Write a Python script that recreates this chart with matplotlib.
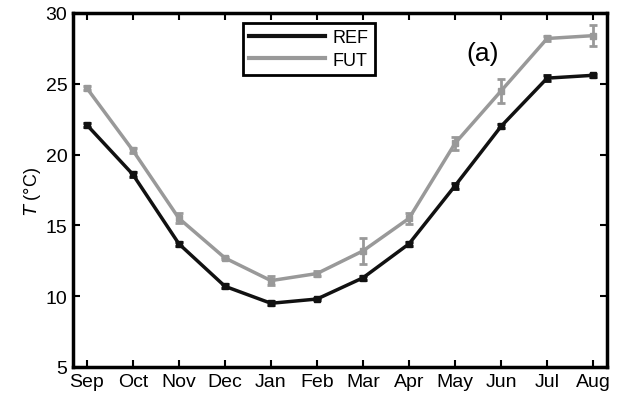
import matplotlib
matplotlib.use("Agg")
import matplotlib.pyplot as plt
from matplotlib.lines import Line2D
import numpy as np

plt.rcParams['font.family'] = ['Liberation Sans', 'DejaVu Sans']

months = ['Sep', 'Oct', 'Nov', 'Dec', 'Jan', 'Feb', 'Mar', 'Apr', 'May', 'Jun', 'Jul', 'Aug']
ref = [22.1, 18.6, 13.7, 10.7, 9.5, 9.8, 11.3, 13.7, 17.8, 22.0, 25.4, 25.6]
ref_err = [0.15, 0.15, 0.15, 0.15, 0.15, 0.1, 0.15, 0.15, 0.2, 0.15, 0.2, 0.1]
fut = [24.7, 20.3, 15.5, 12.7, 11.1, 11.6, 13.2, 15.5, 20.8, 24.5, 28.2, 28.4]
fut_err = [0.15, 0.2, 0.35, 0.1, 0.3, 0.15, 0.9, 0.4, 0.45, 0.85, 0.2, 0.75]

x = np.arange(1, len(months) + 1)
c_ref = '#111111'
c_fut = '#999999'

fig = plt.figure(figsize=(6.18, 4.06), dpi=100)
ax = fig.add_axes([73/618, 1 - 368/406, (607-73)/618, (368-14)/406])

ax.errorbar(x, ref, yerr=ref_err, color=c_ref, lw=2.5, capsize=3, capthick=2,
            elinewidth=2, marker='s', ms=4)
ax.errorbar(x, fut, yerr=fut_err, color=c_fut, lw=2.5, capsize=3, capthick=2,
            elinewidth=2, marker='s', ms=4)

ax.set_xlim(0.7, 12.3)
ax.set_ylim(5, 30)
ax.set_xticks(x)
ax.set_xticklabels(months)
ax.set_yticks([5, 10, 15, 20, 25, 30])
ax.tick_params(direction='in', length=5, width=1.5, labelsize=14, top=True, right=True, pad=4)
for s in ax.spines.values():
    s.set_linewidth(2.5)

ax.set_ylabel(r'$T$ (°C)', fontsize=13, labelpad=2)
ax.text(9.25, 26.7, '(a)', fontsize=19)

handles = [Line2D([], [], color=c_ref, lw=3), Line2D([], [], color=c_fut, lw=3)]
leg = ax.legend(handles, ['REF', 'FUT'], loc='upper left', bbox_to_anchor=(0.318, 0.972),
                borderaxespad=0, fontsize=13, frameon=True, fancybox=False,
                edgecolor='black', handlelength=4.2, borderpad=0.35, labelspacing=0.3,
                handletextpad=0.4, framealpha=1)
leg.get_frame().set_linewidth(2)

fig.savefig('out.png', dpi=100)
